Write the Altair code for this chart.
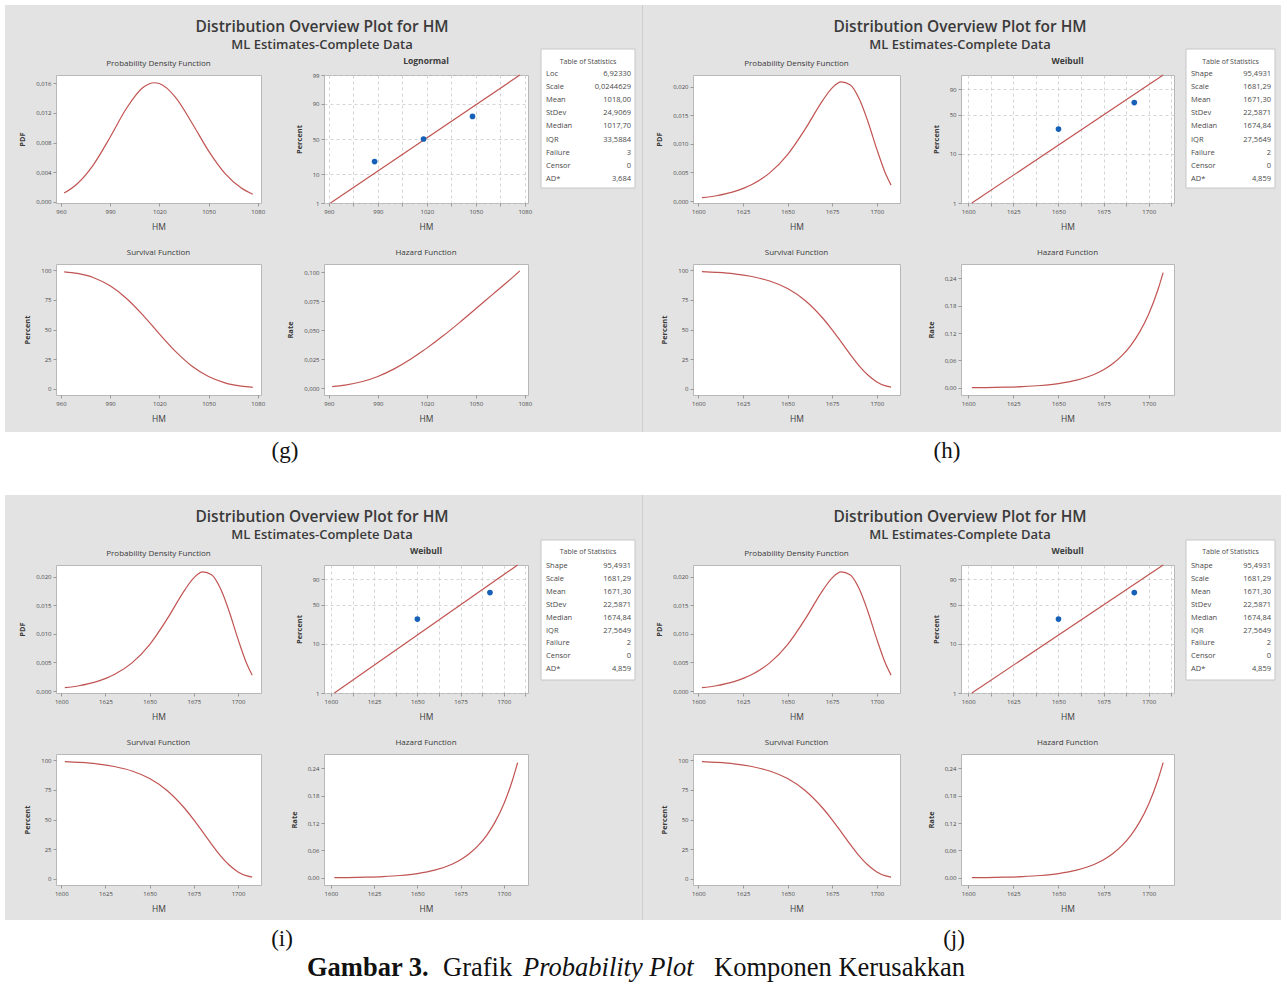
import altair as alt
import pandas as pd
from statistics import NormalDist
import math

# ---------------- data ----------------
# Panel (g): Lognormal fit
G_X = [962, 970, 980, 990, 1000, 1010, 1017, 1020, 1030, 1040, 1050, 1060, 1070, 1077]
G_PDF = [0.00120, 0.00246, 0.00507, 0.00872, 0.01262, 0.01540, 0.01605, 0.01594,
         0.01405, 0.01060, 0.00688, 0.00385, 0.00187, 0.00104]
G_SURV = [98.9, 97.5, 93.9, 87.0, 76.3, 62.2, 51.1, 46.3, 31.2, 18.8, 10.1, 4.8, 2.0, 1.0]
G_HAZ = [0.0012, 0.0025, 0.0054, 0.0100, 0.0165, 0.0248, 0.0314, 0.0344,
         0.0450, 0.0564, 0.0683, 0.0803, 0.0922, 0.1010]
G_PTS_X = [988, 1018, 1048]
G_PTS_P = [20.6, 50.0, 79.4]
G_FIT_X = [961, 1077]
G_FIT_P = [1, 99]
G_TAB_LABELS = ["Loc", "Scale", "Mean", "StDev", "Median", "IQR", "Failure", "Censor", "AD*"]
G_TAB_VALUES = ["6,92330", "0,0244629", "1018,00", "24,9069", "1017,70", "33,5884", "3", "0", "3,684"]

# Panels (h), (i), (j): Weibull fit
W_X = [1602, 1610, 1620, 1630, 1640, 1650, 1660, 1670, 1675, 1680, 1685, 1690, 1695, 1700, 1705, 1708]
W_PDF = [0.00059, 0.00093, 0.00165, 0.00289, 0.00494, 0.00815, 0.01267, 0.01777,
         0.01981, 0.02085, 0.02036, 0.01799, 0.01394, 0.00909, 0.00473, 0.00279]
W_SURV = [99.0, 98.4, 97.2, 94.9, 91.1, 84.7, 74.4, 59.1, 49.7, 39.5, 29.1, 19.4, 11.4, 5.6, 2.2, 1.1]
W_HAZ = [0.0006, 0.0009, 0.0017, 0.0030, 0.0054, 0.0096, 0.0170, 0.0301,
         0.0399, 0.0528, 0.0700, 0.0926, 0.1224, 0.1616, 0.2133, 0.2518]
W_PTS_X = [1650, 1692]
W_PTS_P = [29.2, 70.8]
W_FIT_X = [1602, 1708]
W_FIT_P = [1, 99]
W_TAB_LABELS = ["Shape", "Scale", "Mean", "StDev", "Median", "IQR", "Failure", "Censor", "AD*"]
W_TAB_VALUES = ["95,4931", "1681,29", "1671,30", "22,5871", "1674,84", "27,5649", "2", "0", "4,859"]

# tick values
G_XTICKS = [960, 990, 1020, 1050, 1080]
G_XGRID = [960, 975, 990, 1005, 1020, 1035, 1050, 1065, 1080]
W_XTICKS = [1600, 1625, 1650, 1675, 1700]
W_XGRID = [1600, 1612.5, 1625, 1637.5, 1650, 1662.5, 1675, 1687.5, 1700, 1712.5]
G_PDF_TICKS = [0.000, 0.004, 0.008, 0.012, 0.016]
W_PDF_TICKS = [0.000, 0.005, 0.010, 0.015, 0.020]
SURV_TICKS = [0, 25, 50, 75, 100]
G_HAZ_TICKS = [0.000, 0.025, 0.050, 0.075, 0.100]
W_HAZ_TICKS = [0.00, 0.06, 0.12, 0.18, 0.24]
G_PROB_TICKS = [1, 10, 50, 90, 99]
W_PROB_TICKS = [1, 10, 50, 90]

MAIN_TITLE = "Distribution Overview Plot for HM"
SUB_TITLE = "ML Estimates-Complete Data"
PANEL_LABELS = ["(g)", "(h)", "(i)", "(j)"]
CAPTION = ["Gambar 3.", "Grafik", "Probability Plot", "Komponen Kerusakkan"]

# ---------------- style ----------------
FONT = "Open Sans"
SERIF = "Liberation Serif"
TXT = "#3a3a3a"
LAB = "#4a4a4a"
RED = "#c05452"
BLUE = "#1660b8"
GRAY = "#e3e3e3"
BORDER = "#b8b8b8"
ONE = pd.DataFrame({"a": [0]})
VIEW = alt.ViewBackground(fill="white", stroke=BORDER, strokeWidth=1)
NOVIEW = alt.ViewBackground(strokeWidth=0)


def comma_expr(dec):
    return f"replace(format(datum.value, '.{dec}f'), '.', ',')"


def axis(title, values, expr, kind="x", grid=False):
    kw = dict(title=title, values=values, labelExpr=expr, labelFont=FONT, labelFontSize=6,
              labelColor=LAB, titleFont=FONT, titleColor=TXT, tickSize=3, tickColor="#888",
              tickWidth=0.8, domain=False, grid=grid, labelPadding=2, labelOverlap=False)
    if kind == "x":
        kw.update(titleFontSize=8.5, titleFontWeight="normal", titlePadding=8)
    else:
        kw.update(titleFontSize=7.5, titleFontWeight="bold", titlePadding=9)
    if grid:
        kw.update(gridColor="#c9c9c9", gridDash=[3, 3], gridWidth=0.8)
    return alt.Axis(**kw)


def sub_title(text, bold=False):
    return alt.TitleParams(text, font=FONT, fontSize=8.5 if bold else 8,
                           fontWeight="bold" if bold else "normal", color=TXT,
                           offset=7, anchor="middle")


def curve(xs, ys, w, h, xdom, xticks, ydom, yticks, yexpr, ytitle, title):
    df = pd.DataFrame({"x": xs, "y": ys})
    return alt.Chart(df, title=sub_title(title)).mark_line(
        color=RED, strokeWidth=1.2, interpolate="monotone").encode(
        x=alt.X("x:Q", scale=alt.Scale(domain=xdom, nice=False, zero=False),
                axis=axis("HM", xticks, "format(datum.value, 'd')", "x")),
        y=alt.Y("y:Q", scale=alt.Scale(domain=ydom, nice=False, zero=False),
                axis=axis(ytitle, yticks, yexpr, "y")),
    ).properties(width=w, height=h, view=VIEW)


def prob(px, pp, fx, fp, w, h, xdom, xgrid, major, kind, title, pticks):
    if kind == "normal":
        q = "quantileNormal(datum.p / 100)"
        inv = "format(cumulativeNormal(datum.value) * 100, '.0f')"
        tr = lambda p: NormalDist().inv_cdf(p / 100)
    else:
        q = "log(-log(1 - datum.p / 100))"
        inv = "format((1 - exp(-exp(datum.value))) * 100, '.0f')"
        tr = lambda p: math.log(-math.log(1 - p / 100))
    ydom = [tr(1), tr(99)]
    yvals = [tr(p) for p in pticks]
    xexpr = f"datum.value % {major} == 0 ? format(datum.value, 'd') : ''"
    X = alt.X("x:Q", scale=alt.Scale(domain=xdom, nice=False, zero=False),
              axis=axis("HM", xgrid, xexpr, "x", grid=True))
    Y = alt.Y("q:Q", scale=alt.Scale(domain=ydom, nice=False, zero=False),
              axis=axis("Percent", yvals, inv, "y", grid=True))
    fit = alt.Chart(pd.DataFrame({"x": fx, "p": fp})).transform_calculate(q=q).mark_line(
        color=RED, strokeWidth=1.2).encode(x=X, y=Y)
    pts = alt.Chart(pd.DataFrame({"x": px, "p": pp})).transform_calculate(q=q).mark_circle(
        size=32, color=BLUE, opacity=1).encode(x=X, y=Y)
    return alt.layer(fit, pts).properties(width=w, height=h, view=VIEW,
                                          title=sub_title(title, bold=True))


def pad(w, h):
    # an empty cell: a zero-size invisible rect at its origin
    return alt.Chart(ONE).mark_rect(opacity=0).encode(
        x=alt.value(0), x2=alt.value(0), y=alt.value(0), y2=alt.value(0)
    ).properties(width=w, height=h, view=NOVIEW)


def text_mark(x, y, text, size, font=FONT, weight="normal", style="normal", align="center",
              color=TXT, baseline="middle"):
    return alt.Chart(ONE).mark_text(text=text, font=font, fontSize=size, fontWeight=weight,
                                    fontStyle=style, align=align, baseline=baseline,
                                    color=color).encode(x=alt.value(x), y=alt.value(y))


def rect(x, x2, y, y2, fill, stroke=None):
    kw = dict(fill=fill)
    if stroke:
        kw.update(stroke=stroke, strokeWidth=1)
    else:
        kw.update(strokeWidth=0)
    return alt.Chart(ONE).mark_rect(**kw).encode(
        x=alt.value(x), x2=alt.value(x2), y=alt.value(y), y2=alt.value(y2))


def table(labels, values, w, h, box_top, box_bot, title_y, row0, step):
    n = len(labels)
    df = pd.DataFrame({"i": list(range(n)), "label": labels, "value": values})
    ysc = alt.Scale(domain=[0, n - 1], range=[row0, row0 + step * (n - 1)])
    box = rect(0, w, box_top, box_bot, "white", "#c6c6c6")
    ttl = text_mark(w / 2, title_y, "Table of Statistics", 7, color=LAB)
    lab = alt.Chart(df).mark_text(align="left", font=FONT, fontSize=7.5, color=LAB,
                                  baseline="middle").encode(
        x=alt.value(5), y=alt.Y("i:Q", scale=ysc, axis=None), text="label:N")
    val = alt.Chart(df).mark_text(align="right", font=FONT, fontSize=7.5, color=LAB,
                                  baseline="middle").encode(
        x=alt.value(w - 4), y=alt.Y("i:Q", scale=ysc, axis=None), text="value:N")
    return alt.layer(box, ttl, lab, val).properties(width=w, height=h, view=NOVIEW)


def panel_charts(kind, cols, hA, hB, tab):
    """Return (row A charts, row B charts) for one panel: pdf, prob, table / surv, haz."""
    if kind == "normal":
        xs, pdf, surv, haz = G_X, G_PDF, G_SURV, G_HAZ
        xdom_a, xdom_b = [957, 1082], [957, 1082]
        xt, xg, major = G_XTICKS, G_XGRID, 30
        pdom, pt, pe = [-0.00014, 0.01709], G_PDF_TICKS, comma_expr(3)
        hdom, ht, he = [-0.006, 0.1069], G_HAZ_TICKS, comma_expr(3)
        pts = (G_PTS_X, G_PTS_P, G_FIT_X, G_FIT_P)
        name, ptk = "Lognormal", G_PROB_TICKS
        tl, tv = G_TAB_LABELS, G_TAB_VALUES
    else:
        xs, pdf, surv, haz = W_X, W_PDF, W_SURV, W_HAZ
        xdom_a, xdom_b = [1597, 1713], [1596, 1714]
        xt, xg, major = W_XTICKS, W_XGRID, 25
        pdom, pt, pe = [-0.00034, 0.02207], W_PDF_TICKS, comma_expr(3)
        hdom, ht, he = [-0.0153, 0.2706], W_HAZ_TICKS, comma_expr(2)
        pts = (W_PTS_X, W_PTS_P, W_FIT_X, W_FIT_P)
        name, ptk = "Weibull", W_PROB_TICKS
        tl, tv = W_TAB_LABELS, W_TAB_VALUES
    w1, w2, w3 = cols
    c_pdf = curve(xs, pdf, w1, hA, xdom_a, xt, pdom, pt, pe, "PDF",
                  "Probability Density Function")
    c_prob = prob(*pts, w2, hA, xdom_b, xg, major, kind, name, ptk)
    c_tab = table(tl, tv, w3, hA, *tab)
    c_surv = curve(xs, surv, w1, hB, xdom_a, xt, [-5.5, 105.5], SURV_TICKS,
                   "format(datum.value, 'd')", "Percent", "Survival Function")
    c_haz = curve(xs, haz, w2, hB, xdom_b, xt, hdom, ht, he, "Rate", "Hazard Function")
    return [c_pdf, c_prob, c_tab], [c_surv, c_haz, pad(w3, hB)]


# ---------------- layout: a grid of 13 shared columns (flush bounds) ----------------
COLS = [56, 205, 63, 204, 13, 94, 58, 207, 61, 213, 12, 89, 1]
H_TOP, H_A, H_MID, H_B, H_GAP, H_BOT = 75, 128, 61, 131, 170, 70
TAB1 = (-26, 113, -13, -1, 13.1)
TAB2 = (-25, 115, -13, 1, 12.9)
RIGHT = 1281


def pad_row(cols, h):
    return [pad(w, h) for w in cols]


def chart_row(cols, h, left, right):
    return [pad(cols[0], h), left[0], pad(cols[2], h), left[1], pad(cols[4], h), left[2],
            pad(cols[6], h), right[0], pad(cols[8], h), right[1], pad(cols[10], h), right[2],
            pad(cols[12], h)]


# decoration cell (drawn first, at the origin): panel backgrounds, titles, captions
deco_layers = [
    pad(COLS[0], H_TOP),
    rect(5, RIGHT, 5, 432, GRAY),
    rect(5, RIGHT, 495, 920, GRAY),
    rect(642, 643, 5, 432, "#cecece"),
    rect(642, 643, 495, 920, "#cecece"),
]
for cx, ty in [(322, 27), (960, 27), (322, 517), (960, 517)]:
    deco_layers.append(text_mark(cx, ty, MAIN_TITLE, 15.5, weight=600))
    deco_layers.append(text_mark(cx, ty + 18, SUB_TITLE, 13, weight=600))
for (lx, ly), lab in zip([(285, 451), (947, 451), (282, 939), (954, 939)], PANEL_LABELS):
    deco_layers.append(text_mark(lx, ly, lab, 23, font=SERIF, color="#111"))
CAP_Y = 968
deco_layers += [
    text_mark(307, CAP_Y, CAPTION[0], 26.5, font=SERIF, weight="bold", align="left", color="#111"),
    text_mark(443, CAP_Y, CAPTION[1], 26.5, font=SERIF, align="left", color="#111"),
    text_mark(523, CAP_Y, CAPTION[2], 26.5, font=SERIF, style="italic", align="left", color="#111"),
    text_mark(714, CAP_Y, CAPTION[3], 26.5, font=SERIF, align="left", color="#111"),
]
deco = alt.layer(*deco_layers).properties(width=COLS[0], height=H_TOP, view=NOVIEW)

PANEL_W = (COLS[1], COLS[3], COLS[5])
RIGHT_W = (COLS[7], COLS[9], COLS[11])
gA, gB = panel_charts("normal", PANEL_W, H_A, H_B, TAB1)
hA, hB = panel_charts("weibull", RIGHT_W, H_A, H_B, TAB1)
iA, iB = panel_charts("weibull", PANEL_W, H_A, H_B, TAB2)
jA, jB = panel_charts("weibull", RIGHT_W, H_A, H_B, TAB2)

cells = []
cells += [deco] + pad_row(COLS[1:], H_TOP)
cells += chart_row(COLS, H_A, gA, hA)
cells += pad_row(COLS, H_MID)
cells += chart_row(COLS, H_B, gB, hB)
cells += pad_row(COLS, H_GAP)
cells += chart_row(COLS, H_A, iA, jA)
cells += pad_row(COLS, H_MID)
cells += chart_row(COLS, H_B, iB, jB)
cells += pad_row(COLS, H_BOT)

chart = alt.concat(*cells, columns=13, align="each", bounds="flush", spacing=0).properties(
    background="white", padding=0
).configure_view(strokeWidth=0)

chart.save("out.html", embed_options={"renderer": "svg", "actions": False})
